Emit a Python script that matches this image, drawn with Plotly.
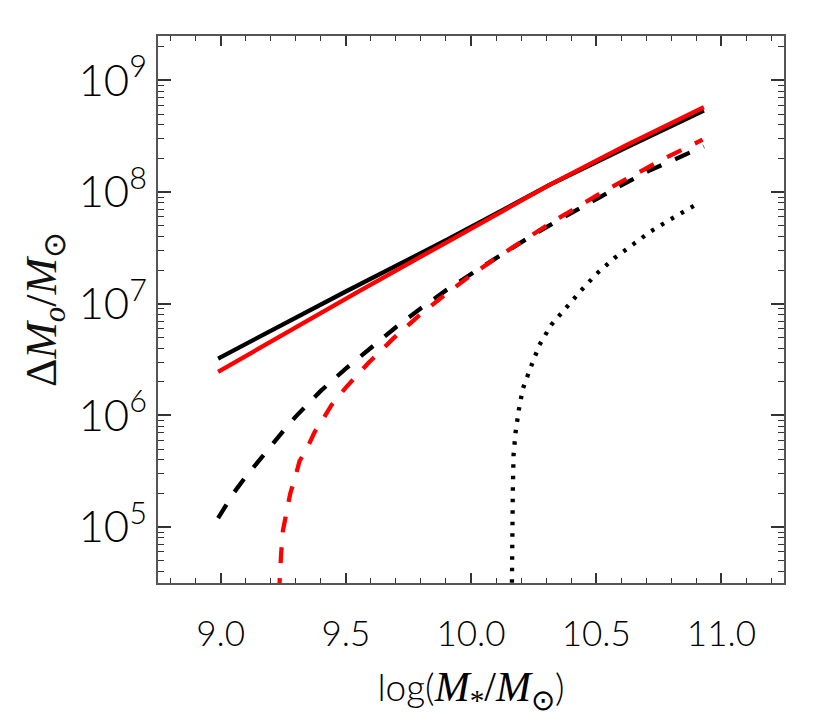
import numpy as np
import plotly.graph_objects as go

# log10(M*/Msun) and log10(Delta M_o / Msun)
x_solid_black = [8.99, 9.50, 9.91, 10.31, 10.62, 10.93]
y_solid_black = [6.51, 7.11, 7.58, 8.06, 8.40, 8.73]

x_solid_red = [8.99, 9.55, 9.91, 10.31, 10.62, 10.93]
y_solid_red = [6.39, 7.11, 7.56, 8.06, 8.42, 8.76]

x_dash_black = [8.99, 9.05, 9.10, 9.15, 9.20, 9.25, 9.30, 9.40, 9.50, 9.60, 9.70,
                9.80, 9.90, 10.03, 10.14, 10.25, 10.35, 10.50, 10.60, 10.71, 10.83, 10.93]
y_dash_black = [5.08, 5.30, 5.45, 5.59, 5.73, 5.86, 5.99, 6.22, 6.42, 6.61, 6.79,
                6.96, 7.12, 7.31, 7.47, 7.62, 7.75, 7.94, 8.06, 8.19, 8.31, 8.41]

x_dash_red = [9.233, 9.236, 9.242, 9.249, 9.255, 9.269, 9.278, 9.302, 9.315, 9.348, 9.375,
              9.415, 9.442, 9.50, 9.59, 9.69, 9.79, 9.89, 9.99, 10.10, 10.21, 10.33,
              10.54, 10.66, 10.78, 10.925]
y_dash_red = [4.40, 4.60, 4.77, 4.97, 5.03, 5.21, 5.30, 5.48, 5.59, 5.72, 5.85,
              5.99, 6.09, 6.25, 6.47, 6.69, 6.89, 7.07, 7.24, 7.41, 7.57, 7.74,
              8.02, 8.17, 8.31, 8.47]

x_dot_black = [10.163, 10.163, 10.164, 10.167, 10.170, 10.178, 10.191, 10.207, 10.24, 10.273,
               10.32, 10.38, 10.44, 10.502, 10.573, 10.646, 10.719, 10.792, 10.872, 10.915]
y_dot_black = [4.40, 4.62, 5.03, 5.33, 5.65, 5.85, 6.05, 6.24, 6.44, 6.63,
               6.81, 6.97, 7.12, 7.27, 7.41, 7.53, 7.65, 7.75, 7.86, 7.91]

x_ticks = [9.0, 9.5, 10.0, 10.5, 11.0]
x_ticktext = ["9.0", "9.5", "10.0", "10.5", "11.0"]

LW = 4.3
fig = go.Figure()
fig.add_scatter(x=x_solid_black, y=10**np.array(y_solid_black), mode="lines",
                line=dict(color="black", width=LW))
fig.add_scatter(x=x_solid_red, y=10**np.array(y_solid_red), mode="lines",
                line=dict(color="red", width=LW))
fig.add_scatter(x=x_dash_black, y=10**np.array(y_dash_black), mode="lines",
                line=dict(color="black", width=LW, dash="16px,15px"))
fig.add_scatter(x=x_dash_red, y=10**np.array(y_dash_red), mode="lines",
                line=dict(color="red", width=LW, dash="16px,15px"))
fig.add_scatter(x=x_dot_black, y=10**np.array(y_dot_black), mode="lines",
                line=dict(color="black", width=LW, dash="3.5px,8px"))

tickfont = dict(family="Lato", size=35, color="black", weight=300)
serif = "font-family:'Liberation Serif';font-size:42px"

fig.update_xaxes(
    range=[8.75, 11.25],
    tickvals=x_ticks, ticktext=x_ticktext,
    ticks="inside", ticklen=10, tickwidth=1.5, tickcolor="#333",
    minor=dict(ticks="inside", ticklen=5, tickwidth=1.2, tickcolor="#333", dtick=0.1, tick0=9.0),
    showline=True, linecolor="#555", linewidth=2, mirror="ticks",
    showgrid=False, zeroline=False,
    tickfont=tickfont, ticklabelstandoff=19,
    title=dict(text="log(<span style=\"%s\"><i>M</i><sub>*</sub>/<i>M</i><sub>⊙</sub></span>)" % serif,
               font=dict(family="Lato", size=37, color="black", weight=300), standoff=23),
)
fig.update_yaxes(
    type="log", range=[4.5, 9.398], dtick=1,
    exponentformat="power", showexponent="all",
    ticks="inside", ticklen=13, tickwidth=1.5, tickcolor="#333",
    minor=dict(ticks="inside", ticklen=6, tickwidth=1.2, tickcolor="#333", dtick="D1"),
    showline=True, linecolor="#555", linewidth=2, mirror="ticks",
    showgrid=False, zeroline=False,
    tickfont=tickfont, ticklabelstandoff=2,
    title=dict(text="Δ<i>M</i><sub><i>o</i></sub>/<i>M</i><sub>⊙</sub>",
               font=dict(family="Liberation Serif", size=44, color="#111", weight=300), standoff=8),
)
fig.update_layout(
    width=830, height=727,
    margin=dict(l=150, r=54, t=28, b=152),
    plot_bgcolor="white", paper_bgcolor="white",
    showlegend=False,
)
fig.write_html("out.html")
